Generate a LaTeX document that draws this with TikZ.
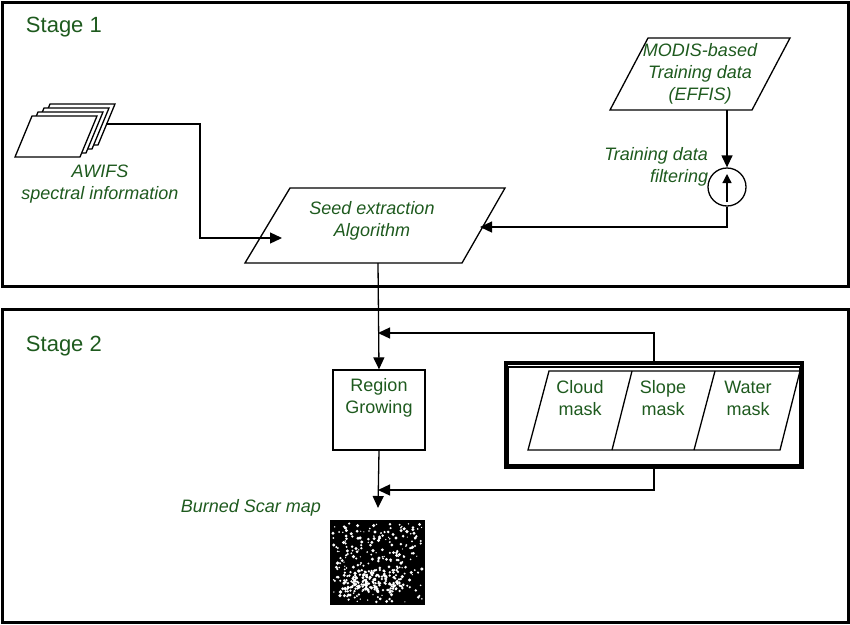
\documentclass[tikz,border=0pt]{standalone}
\usepackage{fontspec}
\setmainfont{Liberation Sans}
\usetikzlibrary{arrows.meta,calc}
\definecolor{lblgreen}{HTML}{1E5A1E}
\begin{document}
\begin{tikzpicture}[x=1pt,y=-1pt,line width=1.3pt,
    lbl/.style={text=lblgreen,font=\fontsize{18}{22}\selectfont,align=center},
    ilbl/.style={lbl,font=\fontsize{18}{22}\selectfont\itshape},
    stage/.style={text=lblgreen,font=\fontsize{22}{26}\selectfont,anchor=west},
    arr/.style={-{Triangle[length=12pt,width=11pt]}},
    sheet/.style={draw,fill=white}]
  \useasboundingbox (0,0) rectangle (850,624);
  % stage frames
  \draw[line width=3pt] (2,2) rectangle (848,286);
  \draw[line width=3pt] (2,309) rectangle (848,622);
  \node[stage] (s1) at (22,27) {Stage 1};
  \node[stage] (s2) at (22,346) {Stage 2};
  % AWIFS stack
  \foreach \d in {3,2,1,0}
    \draw[sheet] ($(15,157)+(6*\d,-4*\d)$) -- ++(65,0) -- ++(17,-41) -- ++(-65,0) -- cycle;
  \coordinate (awifs) at (106,124);
  \node[ilbl] (awifst) at (100,184) {AWIFS\\spectral information};
  % seed extraction
  \draw (245,263) -- (462,263) -- (505,188) -- (290,188) -- cycle;
  \node[ilbl] (seed) at (372,221) {Seed extraction\\Algorithm};
  \coordinate (seed-w) at (282,238);
  \coordinate (seed-e) at (480,227);
  \coordinate (seed-s) at (378,263);
  % MODIS
  \draw (610,110) -- (752,110) -- (790,38) -- (648,38) -- cycle;
  \node[ilbl] (modis) at (700,74) {MODIS-based\\Training data\\(EFFIS)};
  \coordinate (modis-s) at (727,110);
  \node[draw,circle,minimum size=38pt,inner sep=0] (filt) at (727,187) {};
  \draw[arr,-{Triangle[length=9pt,width=9pt]}] (727,202) -- (727,174);
  \node[ilbl,align=right,anchor=east] (filtt) at (712,167) {Training data\\filtering};
  % stage 2
  \node[draw,minimum width=92pt,minimum height=80pt,inner sep=0] (rg) at (379,410) {};
  \node[lbl] (rgt) at (379,398) {Region\\Growing};
  \node[draw,line width=3.5pt,minimum width=296pt,minimum height=104pt,inner sep=0] (masks) at (654,415) {};
  \draw (508,367) rectangle (800,465);
  \draw (528,450) -- (780,450) -- (800,371) -- (549,371) -- cycle;
  \draw (612,450) -- (632,371) (694,450) -- (715,371);
  \node[lbl] (cloud) at (580,398) {Cloud\\mask};
  \node[lbl] (slope) at (663,398) {Slope\\mask};
  \node[lbl] (water) at (748,398) {Water\\mask};
  \coordinate (fb-top) at (378,333);
  \coordinate (fb-bot) at (378,490);
  \coordinate (map-n) at (378,508);
  % burned scar map
  \node[ilbl,anchor=east] (mapt) at (325,508) {Burned Scar map};
  \fill[black] (330,520) rectangle (425,605);
  \pgfmathsetseed{7}
  \foreach \i in {1,...,260}{
    \pgfmathsetmacro\px{333+89*rnd}
    \pgfmathsetmacro\py{523+79*rnd}
    \pgfmathsetmacro\pr{0.6+1.2*rnd}
    \fill[white] (\px,\py) circle (\pr);}
  \foreach \i in {1,...,160}{
    \pgfmathsetmacro\px{345+55*rnd}
    \pgfmathsetmacro\py{570+22*rnd}
    \fill[white] (\px,\py) circle (1.3);}
  % connectors
  \draw[arr] (awifs) -| (200,238) -- (seed-w);
  \draw[arr] (modis-s) -- (filt.north);
  \draw[arr] (filt.south) |- (seed-e);
  \draw[arr] (seed-s) -- (rg.north);
  \draw[arr] (masks.north) |- (fb-top);
  \draw[arr] (rg.south) -- (map-n);
  \draw[arr] (masks.south) |- (fb-bot);
\end{tikzpicture}
\end{document}
